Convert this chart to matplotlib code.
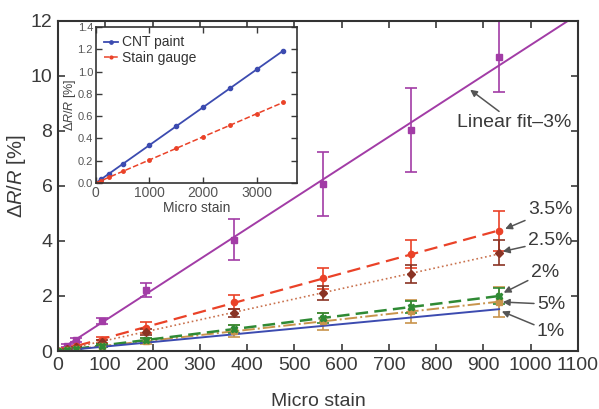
import numpy as np
import matplotlib
matplotlib.use('Agg')
import matplotlib.pyplot as plt

plt.rcParams['font.family'] = ['Liberation Sans', 'DejaVu Sans']
plt.rcParams['mathtext.fontset'] = 'custom'
plt.rcParams['mathtext.rm'] = 'Liberation Sans'
plt.rcParams['mathtext.it'] = 'Liberation Sans:italic'

# main data: strain vs dR/R for different CNT concentrations
strain = [0, 18.7, 37.3, 93.3, 186.7, 373.3, 560, 746.7, 933.3]
r3 = [0, 0.2, 0.4, 1.09, 2.22, 4.05, 6.07, 8.04, 10.7]
e3 = [0, 0.05, 0.08, 0.12, 0.26, 0.75, 1.17, 1.53, 1.3]
r35 = [0, 0.08, 0.17, 0.4, 0.84, 1.78, 2.65, 3.53, 4.36]
e35 = [0, 0.02, 0.03, 0.1, 0.2, 0.26, 0.38, 0.52, 0.72]
r25 = [0, 0.06, 0.13, 0.33, 0.7, 1.39, 2.1, 2.8, 3.57]
e25 = [0, 0.02, 0.03, 0.06, 0.1, 0.15, 0.25, 0.32, 0.45]
r2 = [0, 0.04, 0.08, 0.2, 0.4, 0.8, 1.2, 1.6, 2.0]
e2 = [0, 0.01, 0.02, 0.04, 0.08, 0.14, 0.18, 0.22, 0.3]
r5 = [0, 0.03, 0.07, 0.18, 0.36, 0.72, 1.08, 1.45, 1.78]
e5 = [0, 0.02, 0.03, 0.05, 0.1, 0.22, 0.3, 0.42, 0.55]
r1 = [0, 0.03, 0.06, 0.15, 0.3, 0.61, 0.91, 1.22, 1.52]

# inset data
ins_strain = [0, 100, 250, 500, 1000, 1500, 2000, 2500, 3000, 3500]
cnt_paint = [0, 0.034, 0.085, 0.17, 0.34, 0.51, 0.68, 0.85, 1.02, 1.19]
stain_gauge = [0, 0.021, 0.052, 0.104, 0.207, 0.311, 0.415, 0.518, 0.622, 0.725]

purple = '#a23ca6'
red = '#ea4228'
brown = '#8a3324'
dotc = '#c9724e'
green = '#2f8a34'
tan = '#c8944c'
blue = '#3c4bb0'
txt = '#3a3a3a'

fig = plt.figure(figsize=(5.99, 4.09), dpi=100)
ax = fig.add_axes([0.0968, 0.1418, 0.868, 0.807])

x = np.array(strain)


def fitline(y, xmax):
    k = np.sum(x * np.array(y)) / np.sum(x * x)
    xx = np.array([0, xmax])
    return xx, k * xx


xx, yy = fitline(r3, 1100)
ax.plot(xx, yy, color=purple, lw=1.4)
ax.errorbar(strain, r3, yerr=e3, fmt='s', color=purple, ms=5, capsize=4, elinewidth=1.2, capthick=1.2)

xx, yy = fitline(r35, 933.3)
ax.plot(xx, yy, color=red, lw=1.6, ls=(0, (6, 3)))
ax.errorbar(strain, r35, yerr=e35, fmt='o', color=red, ms=4.5, capsize=4, elinewidth=1.2, capthick=1.2)

xx, yy = fitline(r25, 933.3)
ax.plot(xx, yy, color=dotc, lw=1.2, ls=':')
ax.errorbar(strain, r25, yerr=e25, fmt='D', color=brown, ms=4, capsize=4, elinewidth=1.2, capthick=1.2)

xx, yy = fitline(r5, 933.3)
ax.plot(xx, yy, color=tan, lw=1.4, ls='-.')
ax.errorbar(strain, r5, yerr=e5, fmt='s', color=tan, ms=4, capsize=4, elinewidth=1.2, capthick=1.2)

xx, yy = fitline(r2, 933.3)
ax.plot(xx, yy, color=green, lw=1.8, ls=(0, (5, 2.5)))
ax.errorbar(strain, r2, yerr=e2, fmt='X', color=green, ms=5, capsize=4, elinewidth=1.2, capthick=1.2)

xx, yy = fitline(r1, 933.3)
ax.plot(xx, yy, color=blue, lw=1.4)

ax.set_xlim(0, 1100)
ax.set_ylim(0, 12)
ax.set_xticks(np.arange(0, 1101, 100))
ax.set_yticks(np.arange(0, 13, 2))
ax.tick_params(direction='in', top=True, right=True, length=5, width=1.2,
               labelsize=14, colors=txt, labelcolor=txt, pad=4)
for sp in ax.spines.values():
    sp.set_linewidth(1.5)
    sp.set_color('#333333')
ax.set_xlabel('Micro stain', fontsize=14, color=txt, labelpad=14)
ax.set_ylabel(r'$\Delta$$\it{R}$/$\it{R}$ [%]', fontsize=14.5, color=txt)
ax.yaxis.set_label_coords(-0.058, 0.53)

arw = dict(arrowstyle='-|>', color='#555555', lw=1.1, mutation_scale=10, shrinkA=0, shrinkB=0)
ax.annotate('Linear fit\u20133%', xy=(872, 9.5), xytext=(844, 8.3), fontsize=14, color=txt,
            va='center', ha='left', arrowprops=arw)
ax.annotate('3.5%', xy=(946, 4.44), xytext=(994, 5.13), fontsize=14, color=txt,
            va='center', ha='left', arrowprops=arw)
ax.annotate('2.5%', xy=(941, 3.62), xytext=(994, 4.0), fontsize=14, color=txt,
            va='center', ha='left', arrowprops=arw)
ax.annotate('2%', xy=(943, 2.12), xytext=(1000, 2.87), fontsize=14, color=txt,
            va='center', ha='left', arrowprops=arw)
ax.annotate('5%', xy=(941, 1.78), xytext=(1013, 1.7), fontsize=14, color=txt,
            va='center', ha='left', arrowprops=arw)
ax.annotate('1%', xy=(939, 1.44), xytext=(1013, 0.7), fontsize=14, color=txt,
            va='center', ha='left', arrowprops=arw)

# inset
ins = fig.add_axes([0.160, 0.5526, 0.3356, 0.381])
ins.plot(ins_strain, cnt_paint, '-o', color=blue, lw=1.3, ms=3, label='CNT paint')
ins.plot(ins_strain, stain_gauge, '--o', color=red, lw=1.1, ms=2.5, label='Stain gauge')
ins.set_xlim(0, 3750)
ins.set_ylim(0, 1.4)
ins.set_xticks([0, 1000, 2000, 3000])
ins.set_yticks(np.arange(0, 1.41, 0.2))
ins.yaxis.set_major_formatter(matplotlib.ticker.FormatStrFormatter('%.1f'))
ins.tick_params(direction='in', top=True, right=True, length=4, width=1,
                colors=txt, labelcolor='#555555', pad=2)
ins.tick_params(axis='x', labelsize=10)
ins.tick_params(axis='y', labelsize=8)
for sp in ins.spines.values():
    sp.set_linewidth(1.2)
    sp.set_color('#333333')
ins.set_xlabel('Micro stain', fontsize=10, color='#444444', labelpad=1)
ins.set_ylabel(r'$\Delta$$\it{R}$/$\it{R}$ [%]', fontsize=9, color='#444444', labelpad=0)
ins.legend(loc='upper left', fontsize=10, frameon=False, handlelength=1.0,
           handletextpad=0.3, borderaxespad=0.2, labelspacing=0.1, markerscale=0.8,
           labelcolor='#333333')

fig.savefig('out.png', dpi=100)
